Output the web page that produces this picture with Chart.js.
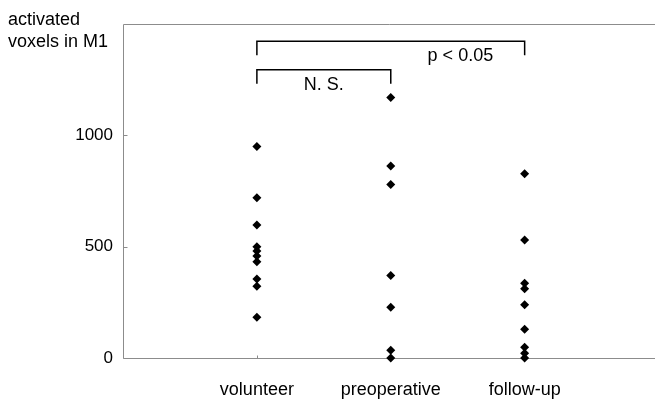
<!DOCTYPE html>
<html>
<head>
    <title>Activated voxels in M1</title>
    <script src="https://cdn.jsdelivr.net/npm/chart.js@4.4.5/dist/chart.umd.min.js"></script>
    <style>
        body { margin: 0; background: #fff; }
    </style>
</head>
<body>
    <canvas id="voxelChart" width="655" height="401"></canvas>

    <script>
        // values
        const categories = ['volunteer', 'preoperative', 'follow-up'];
        const volunteer = [950, 720, 597, 500, 480, 458, 432, 355, 322, 183];
        const preoperative = [1170, 862, 779, 371, 228, 35, 0];
        const followUp = [827, 530, 336, 311, 239, 129, 48, 21, 0];
        const yTicks = [0, 500, 1000];

        // significance brackets (category positions and value levels)
        const bracketLabels = ['p < 0.05', 'N. S.'];
        const bracketFrom = [1, 1];
        const bracketTo = [3, 2];
        const bracketLevel = [1422, 1294];
        const bracketLabelX = [2.52, 1.5];

        const font = 'Liberation Sans, Arial, sans-serif';

        function toPoints(values, pos) {
            return values.map(v => ({ x: pos, y: v }));
        }

        // frame, small ticks, brackets and the corner title
        const extras = {
            id: 'extras',
            beforeDatasetsDraw(chart) {
                const ctx = chart.ctx;
                const xs = chart.scales.x;
                const ys = chart.scales.y;
                const area = chart.chartArea;
                const left = Math.round(area.left) + 0.5;
                const top = Math.round(area.top) + 0.5;
                const bottom = Math.round(area.bottom) + 0.5;
                ctx.save();
                ctx.strokeStyle = '#8c8c8c';
                ctx.lineWidth = 1;
                ctx.beginPath();
                ctx.moveTo(chart.width, top);
                ctx.lineTo(left, top);
                ctx.lineTo(left, bottom);
                ctx.lineTo(chart.width, bottom);
                yTicks.forEach(v => {
                    const py = Math.round(ys.getPixelForValue(v)) + 0.5;
                    ctx.moveTo(left, py);
                    ctx.lineTo(left + 4, py);
                });
                categories.forEach((c, i) => {
                    const px = Math.round(xs.getPixelForValue(i + 1)) + 0.5;
                    ctx.moveTo(px, bottom);
                    ctx.lineTo(px, bottom - 3);
                });
                ctx.stroke();
                ctx.restore();
            },
            afterDraw(chart) {
                const ctx = chart.ctx;
                const xs = chart.scales.x;
                const ys = chart.scales.y;
                ctx.save();
                ctx.strokeStyle = '#000';
                ctx.lineWidth = 1.5;
                ctx.fillStyle = '#000';
                ctx.font = '18px ' + font;
                ctx.textAlign = 'center';
                ctx.textBaseline = 'alphabetic';
                bracketLabels.forEach((label, i) => {
                    const x1 = xs.getPixelForValue(bracketFrom[i]);
                    const x2 = xs.getPixelForValue(bracketTo[i]);
                    const yTop = ys.getPixelForValue(bracketLevel[i]);
                    const yEnd = ys.getPixelForValue(bracketLevel[i] - 62);
                    ctx.beginPath();
                    ctx.moveTo(x1, yEnd);
                    ctx.lineTo(x1, yTop);
                    ctx.lineTo(x2, yTop);
                    ctx.lineTo(x2, yEnd);
                    ctx.stroke();
                    ctx.fillText(label, xs.getPixelForValue(bracketLabelX[i]), yTop + 20);
                });

                ctx.textAlign = 'left';
                ctx.fillText('activated', 8, 25);
                ctx.fillText('voxels in M1', 8, 47);
                ctx.restore();
            }
        };

        const pointStyle = {
            pointStyle: 'rectRot',
            pointRadius: 4.5,
            pointBorderWidth: 0,
            backgroundColor: '#000',
            borderColor: '#000',
            clip: false
        };

        new Chart(document.getElementById('voxelChart'), {
            type: 'scatter',
            data: {
                datasets: [
                    { label: 'volunteer', data: toPoints(volunteer, 1), ...pointStyle },
                    { label: 'preoperative', data: toPoints(preoperative, 2), ...pointStyle },
                    { label: 'follow-up', data: toPoints(followUp, 3), ...pointStyle }
                ]
            },
            options: {
                responsive: false,
                animation: false,
                layout: { padding: { top: 24, left: 0, right: 0, bottom: 0 } },
                plugins: {
                    legend: { display: false },
                    tooltip: { enabled: false }
                },
                scales: {
                    x: {
                        type: 'linear',
                        min: 0,
                        max: 3.94,
                        afterBuildTicks: s => { s.ticks = [1, 2, 3].map(v => ({ value: v })); },
                        afterFit: s => { s.height = 43; },
                        grid: { display: false, drawTicks: false },
                        border: { display: false },
                        ticks: {
                            autoSkip: false,
                            maxRotation: 0,
                            padding: 21,
                            color: '#000',
                            font: { family: font, size: 18 },
                            callback: v => categories[v - 1]
                        }
                    },
                    y: {
                        min: 0,
                        max: 1500,
                        afterBuildTicks: s => { s.ticks = yTicks.map(v => ({ value: v })); },
                        afterFit: s => { s.width = 123; },
                        grid: { display: false, drawTicks: false },
                        border: { display: false },
                        ticks: {
                            autoSkip: false,
                            padding: 10,
                            color: '#000',
                            font: { family: font, size: 17 },
                            callback: v => String(v)
                        }
                    }
                }
            },
            plugins: [extras]
        });
    </script>
</body>
</html>
